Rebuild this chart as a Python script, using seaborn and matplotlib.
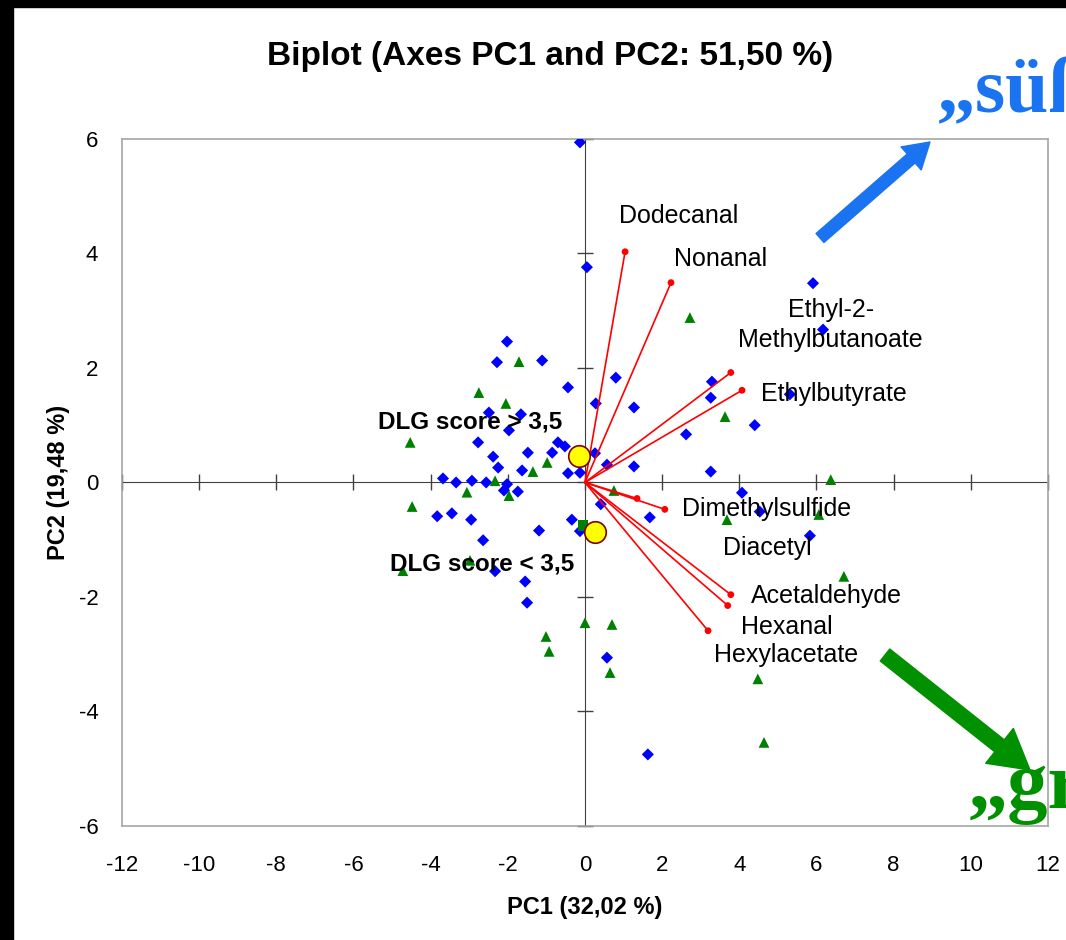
import pandas as pd
import matplotlib.pyplot as plt
import seaborn as sns
from matplotlib.patches import Rectangle

# samples, DLG score > 3,5 (blue diamonds)
pc1_hi = [-0.13, 0.05, -2.02, -2.28, -1.11, -0.44, 0.80, 0.28, 1.27, 3.29, 3.26, 2.62, 1.27, 3.26,
          0.57, 0.26, -0.13, -0.44, -2.49, -1.66, -1.97, -2.77, -2.38, -2.25, -1.48, -1.63, -0.85,
          -0.70, -0.52, -3.68, -3.34, -2.93, -2.56, -2.02, -2.10, -1.74, -3.83, -3.45, -2.95, -2.64,
          -1.19, -0.34, -0.13, 0.41, 1.68, -2.33, -1.55, -1.50, 0.57, 5.91, 6.17, 5.31, 4.40, 4.07,
          4.53, 5.83, 1.63]
pc2_hi = [5.94, 3.76, 2.46, 2.10, 2.13, 1.66, 1.83, 1.38, 1.31, 1.76, 1.48, 0.84, 0.28, 0.19,
          0.31, 0.51, 0.17, 0.16, 1.22, 1.19, 0.91, 0.70, 0.45, 0.26, 0.52, 0.21, 0.52,
          0.70, 0.63, 0.07, 0.00, 0.03, 0.00, -0.03, -0.14, -0.16, -0.59, -0.54, -0.65, -1.01,
          -0.84, -0.65, -0.85, -0.38, -0.61, -1.55, -1.73, -2.10, -3.06, 3.48, 2.67, 1.54, 1.00, -0.18,
          -0.51, -0.93, -4.75]

# samples, DLG score < 3,5 (green triangles)
pc1_lo = [2.72, -1.71, -2.75, -2.05, -4.53, -0.98, -1.35, -2.33, -3.06, -1.97, -4.48, -2.98, -4.72,
          0.00, 0.70, -1.01, -0.93, 0.65, 0.75, 3.63, 6.37, 3.68, 6.06, 6.71, 4.48, 4.64]
pc2_lo = [2.88, 2.11, 1.57, 1.38, 0.70, 0.35, 0.19, 0.03, -0.17, -0.23, -0.42, -1.36, -1.54,
          -2.45, -2.48, -2.69, -2.95, -3.32, -0.14, 1.15, 0.05, -0.65, -0.56, -1.64, -3.43, -4.54]

# group centroids
cent_pc1 = [-0.16, 0.26]
cent_pc2 = [0.46, -0.86]
sq_pc1 = [-0.05]
sq_pc2 = [-0.75]

# variable loadings
var_names = ['Dodecanal', 'Nonanal', 'Ethyl-2-Methylbutanoate', 'Ethylbutyrate', 'Diacetyl',
             'Dimethylsulfide', 'Acetaldehyde', 'Hexanal', 'Hexylacetate']
var_pc1 = [1.04, 2.23, 3.78, 4.07, 1.35, 2.07, 3.78, 3.70, 3.19]
var_pc2 = [4.03, 3.49, 1.92, 1.61, -0.28, -0.47, -1.96, -2.15, -2.59]

ticks_x = [-12, -10, -8, -6, -4, -2, 0, 2, 4, 6, 8, 10, 12]
ticks_y = [-6, -4, -2, 0, 2, 4, 6]

sns.set_style('white')
plt.rcParams['font.family'] = ['Liberation Sans', 'DejaVu Sans']
plt.rcParams['axes.unicode_minus'] = False
plt.rcParams['text.color'] = 'black'
plt.rcParams['axes.labelcolor'] = 'black'

fig = plt.figure(figsize=(10.66, 9.4), dpi=100)
ax = fig.add_axes([0.1144, 0.1213, 0.8687, 0.7309])

hi = pd.DataFrame({'PC1': pc1_hi, 'PC2': pc2_hi})
lo = pd.DataFrame({'PC1': pc1_lo, 'PC2': pc2_lo})
sns.scatterplot(data=hi, x='PC1', y='PC2', marker='D', s=38, color='#0000ff', edgecolor='none', ax=ax, zorder=3)
sns.scatterplot(data=lo, x='PC1', y='PC2', marker='^', s=60, color='#008000', edgecolor='none', ax=ax, zorder=3)
sns.scatterplot(x=sq_pc1, y=sq_pc2, marker='s', s=55, color='#008000', edgecolor='none', ax=ax, zorder=3)

for vx, vy in zip(var_pc1, var_pc2):
    ax.plot([0, vx], [0, vy], color='red', lw=1.2, zorder=4)
sns.scatterplot(x=var_pc1, y=var_pc2, marker='o', s=24, color='red', edgecolor='none', ax=ax, zorder=4)

sns.scatterplot(x=cent_pc1, y=cent_pc2, marker='o', s=240, color='#ffff00', edgecolor='#800000',
                linewidth=1.2, ax=ax, zorder=5)

# loading labels
lab = dict(fontsize=18, color='black', ha='left', va='center', zorder=6)
ax.text(0.88, 4.65, 'Dodecanal', **lab)
ax.text(2.31, 3.90, 'Nonanal', **lab)
ax.text(6.37, 2.75, 'Ethyl-2-\nMethylbutanoate', fontsize=18, color='black', ha='center', va='center',
        linespacing=1.35, zorder=6)
ax.text(4.56, 1.54, 'Ethylbutyrate', **lab)
ax.text(2.51, -0.47, 'Dimethylsulfide', **lab)
ax.text(3.58, -1.14, 'Diacetyl', **lab)
ax.text(4.30, -1.99, 'Acetaldehyde', **lab)
ax.text(4.04, -2.52, 'Hexanal', **lab)
ax.text(3.34, -3.02, 'Hexylacetate', **lab)
ax.text(-5.36, 1.05, 'DLG score > 3,5', fontsize=17.5, fontweight='bold', color='black',
        ha='left', va='center', zorder=6)
ax.text(-5.05, -1.43, 'DLG score < 3,5', fontsize=17.5, fontweight='bold', color='black',
        ha='left', va='center', zorder=6)

ax.set_xlim(-12, 12)
ax.set_ylim(-6, 6)
ax.set_xticks(ticks_x)
ax.set_yticks(ticks_y)
ax.tick_params(length=0, labelsize=16, colors='black')
ax.tick_params(axis='x', pad=21)
ax.tick_params(axis='y', pad=17)
for sp in ax.spines.values():
    sp.set_color('#a6a6a6')
    sp.set_linewidth(1.2)
ax.set_xlabel('PC1 (32,02 %)', fontsize=17, fontweight='bold', labelpad=14)
ax.set_ylabel('PC2 (19,48 %)', fontsize=17, fontweight='bold', labelpad=6)

# axes through origin with cross ticks
secx = ax.secondary_xaxis(0.5)
secx.set_xticks(ticks_x)
secx.tick_params(direction='inout', length=11, width=1, color='#404040', labelbottom=False, labeltop=False)
secx.spines['bottom'].set_color('#404040')
secx.spines['top'].set_color('#404040')
secy = ax.secondary_yaxis(0.5)
secy.set_yticks(ticks_y)
secy.tick_params(direction='inout', length=11, width=1, color='#404040', labelleft=False, labelright=False)
secy.spines['left'].set_color('#404040')
secy.spines['right'].set_color('#404040')

fig.text(550 / 1066, 1 - 57 / 940, 'Biplot (Axes PC1 and PC2: 51,50 %)', fontsize=24,
         fontweight='bold', color='black', ha='center', va='center')

# slide decoration, cut by the slide edge as in the original
fig.text(937 / 1066, 1 - 112 / 940, '„süß“', fontsize=56, fontweight='bold', color='#1a73f0',
         family='Liberation Serif', ha='left', va='baseline')
fig.text(968 / 1066, 1 - 808 / 940, '„grün“', fontsize=58, fontweight='bold', color='#009000',
         family='Liberation Serif', ha='left', va='baseline')
ax.annotate('', xy=(930, 798), xycoords='figure pixels', xytext=(820, 702), textcoords='figure pixels',
            arrowprops=dict(arrowstyle='simple,head_width=2.2,head_length=1.8,tail_width=0.86',
                            color='#1a73f0', shrinkA=0, shrinkB=0, mutation_scale=10))
ax.annotate('', xy=(1030, 170), xycoords='figure pixels', xytext=(885, 285), textcoords='figure pixels',
            arrowprops=dict(arrowstyle='simple,head_width=3.2,head_length=2.8,tail_width=1.1',
                            color='#009000', shrinkA=0, shrinkB=0, mutation_scale=10))

fig.add_artist(Rectangle((0, 0), 13 / 1066, 1, transform=fig.transFigure, color='black', zorder=10))
fig.add_artist(Rectangle((0, 1 - 7 / 940), 1, 7 / 940, transform=fig.transFigure, color='black', zorder=10))

plt.savefig('out.png', dpi=100)
